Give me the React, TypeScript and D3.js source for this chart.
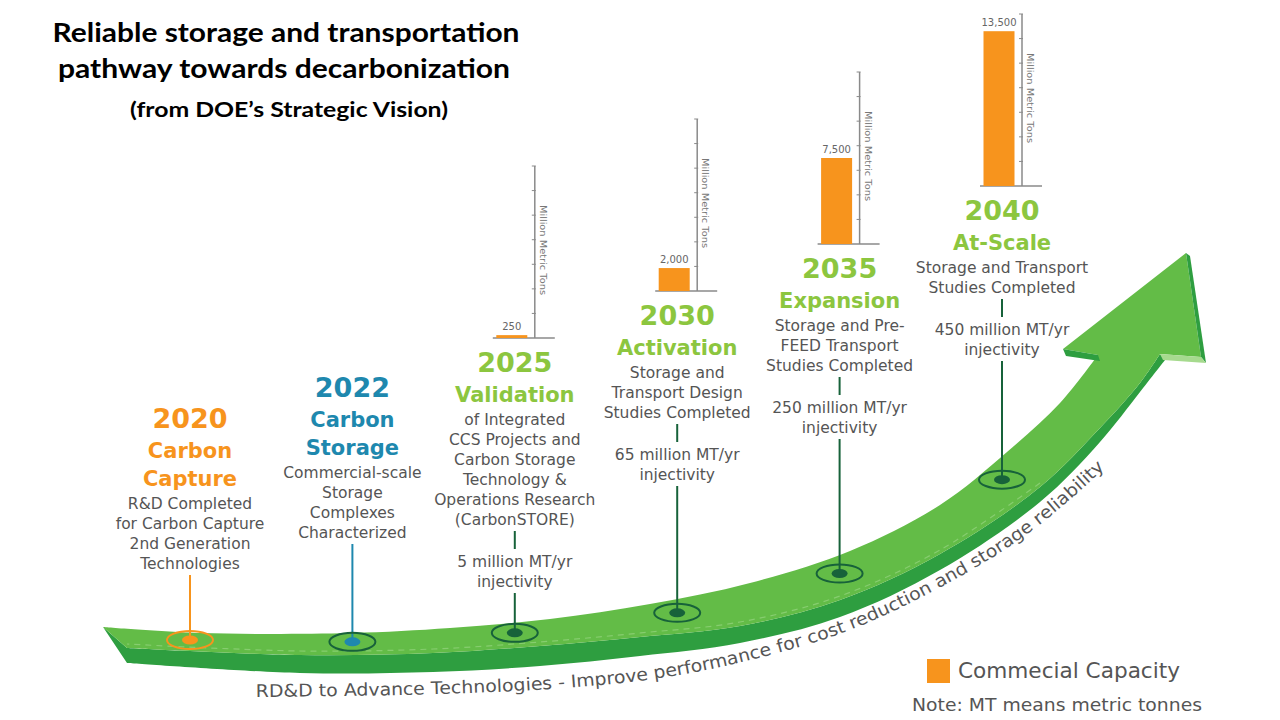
import React from "react";
import * as d3 from "d3";

// ---------- DATA ----------
const titleLines = ["Reliable storage and transportation", "pathway towards decarbonization"];
const subtitle = "(from DOE\u2019s Strategic Vision)";

const milestoneYears = ["2020", "2022", "2025", "2030", "2035", "2040"];
const milestoneTitles = [["Carbon", "Capture"], ["Carbon", "Storage"], ["Validation"], ["Activation"], ["Expansion"], ["At-Scale"]];
const milestoneDescriptions = [
  ["R&D Completed", "for Carbon Capture", "2nd Generation", "Technologies"],
  ["Commercial-scale", "Storage", "Complexes", "Characterized"],
  ["of Integrated", "CCS Projects and", "Carbon Storage", "Technology &", "Operations Research", "(CarbonSTORE)"],
  ["Storage and", "Transport Design", "Studies Completed"],
  ["Storage and Pre-", "FEED Transport", "Studies Completed"],
  ["Storage and Transport", "Studies Completed"],
];
const injectivityLabels = [null, null, "5 million MT/yr", "65 million MT/yr", "250 million MT/yr", "450 million MT/yr"];

const capacityYears = ["2025", "2030", "2035", "2040"];
const capacityValues = [250, 2000, 7500, 13500];
const capacityLabels = ["250", "2,000", "7,500", "13,500"];
const capacityAxisTitle = "Million Metric Tons";

const trackLabel = "RD&D to Advance Technologies - Improve performance for cost reduction and storage reliability";
const legendLabel = "Commecial Capacity";
const noteLabel = "Note: MT means metric tonnes";

// ---------- LAYOUT / STYLE ----------
const W = 1280, H = 720;
const ORANGE = "#F7941D";
const BLUE = "#1E88AE";
const LIME = "#8CC63F";
const GRAY = "#555555";
const DKGREEN = "#17623A";
const milestoneColors = [ORANGE, BLUE, LIME, LIME, LIME, LIME];
const lineColors = [ORANGE, BLUE, DKGREEN, DKGREEN, DKGREEN, DKGREEN];
const ringColors = [ORANGE, DKGREEN, DKGREEN, DKGREEN, DKGREEN, DKGREEN];
const yearCenterY = [418, 387, 362, 315, 268, 210];
const descFont = "'DejaVu Sans', Verdana, sans-serif";
const trackFontSize = 17.5;
const trackTextLength = 905;

// arrow geometry (decorative track)
type P = [number, number];
const upperEdge: P[] = [[103, 627], [200, 633], [350, 633], [450, 628], [550, 619], [650, 604], [750, 583], [850, 551], [940, 505], [1007, 452], [1060, 403], [1098, 355]];
const surfaceLower: P[] = [[1160, 354], [1140, 383], [1100, 428], [1040, 487], [940, 554], [840, 600], [740, 626], [640, 637], [540, 646], [433, 653], [300, 655], [127, 648]];
const sideBottom: P[] = [[127, 663], [300, 673], [433, 672], [540, 666], [640, 656], [740, 643], [840, 617], [940, 570], [1040, 502], [1100, 442], [1140, 392], [1165, 360]];
const headPts: P[] = [[1063, 349], [1186, 253], [1201, 357]];
const textTrack: P[] = [[256, 697], [400, 695], [550, 689], [660, 678], [750, 660], [850, 630], [950, 582], [1030, 532], [1110, 463], [1140, 430]];

const curve = d3.line<P>().x(d => d[0]).y(d => d[1]).curve(d3.curveCatmullRom.alpha(0.5));
const asL = (s: string) => "L" + s.slice(1);

function interpY(pts: P[], x: number) {
  const s = [...pts].sort((a, b) => a[0] - b[0]);
  for (let i = 0; i < s.length - 1; i++) {
    if (x >= s[i][0] && x <= s[i + 1][0]) {
      const t = (x - s[i][0]) / (s[i + 1][0] - s[i][0]);
      return s[i][1] + t * (s[i + 1][1] - s[i][1]);
    }
  }
  return s[s.length - 1][1];
}

function measure(text: string) {
  const c = document.createElement("canvas").getContext("2d");
  if (!c) return text.length * trackFontSize * 0.55;
  c.font = `${trackFontSize}px 'DejaVu Sans', Verdana, sans-serif`;
  return c.measureText(text).width;
}

export default function App() {
  const x = d3.scalePoint<string>().domain(milestoneYears).range([190, 1002]);
  const hScale = d3.scaleLinear().domain([0, 15000]).range([0, 172]);
  const tickVals = d3.range(8).map(i => (i * 15000) / 7);

  const topFace = curve(upperEdge)! + headPts.map(p => `L${p[0]},${p[1]}`).join("") + asL(curve(surfaceLower)!) + "Z";
  const sideFace = curve(sideBottom)! + asL(curve(surfaceLower)!) + "L103,627Z";
  const dashPath = curve(surfaceLower.slice(3).map(p => [p[0], p[1] - 4] as P))!;

  const dotY = (xx: number) => {
    const u = interpY(upperEdge, xx);
    const l = interpY(surfaceLower, xx);
    return u + (l - u) * 0.42;
  };

  // split track label into words placed along the path
  const words = trackLabel.split(" ");
  const fullW = measure(trackLabel);
  const k = trackTextLength / fullW;
  const wordItems: { w: string; off: number; len: number }[] = [];
  let prefix = "";
  words.forEach((w, i) => {
    const off = measure(prefix) * k;
    wordItems.push({ w, off, len: measure(w) * k });
    prefix += w + (i < words.length - 1 ? " " : "");
    if (i < words.length - 1) prefix = prefix; // keep
  });

  return (
    <svg width={W} height={H} style={{ position: "absolute", left: 0, top: 0, background: "#fff" }} fontFamily={descFont}>
      <rect width={W} height={H} fill="#fff" />
      {/* Title */}
      <g fontFamily="Lato, 'Open Sans', sans-serif" fontWeight={700} fill="#000" textAnchor="middle">
        <text x={286} y={42} fontSize={27} textLength={467} lengthAdjust="spacingAndGlyphs">{titleLines[0]}</text>
        <text x={284} y={78} fontSize={27} textLength={452} lengthAdjust="spacingAndGlyphs">{titleLines[1]}</text>
        <text x={289} y={117} fontSize={21} textLength={318} lengthAdjust="spacingAndGlyphs">{subtitle}</text>
      </g>

      {/* Arrow track */}
      <path d={sideFace} fill="#2E9E40" />
      <path d={topFace} fill="#63BC47" />
      <path d={dashPath} fill="none" stroke="#9ED88A" strokeWidth={1.2} strokeDasharray="6 5" opacity={0.6} />
      {/* arrowhead thickness */}
      <path d="M1063,349 L1098,355 L1100,361 L1066,356 Z" fill="#2E9E40" />
      <path d="M1186,253 L1201,357 L1206,363 L1190,256 Z" fill="#2E9E40" />
      <path d="M1160,354 L1201,357 L1206,363 L1163,360 Z" fill="#A6DA8E" />

      {/* Track label */}
      <path id="trackTextPath" d={curve(textTrack)!} fill="none" />
      {wordItems.map((it, i) => (
        <text key={i} fontSize={trackFontSize} fill={GRAY}>
          <textPath href="#trackTextPath" startOffset={it.off} textLength={it.len} lengthAdjust="spacingAndGlyphs">{it.w}</textPath>
        </text>
      ))}

      {/* Milestones */}
      {milestoneYears.map((yr, i) => {
        const cx = x(yr)!;
        const yc = yearCenterY[i];
        const cy = dotY(cx);
        const els: React.ReactNode[] = [];
        els.push(<text key="y" x={cx} y={yc + 9.5} fontSize={27} fontWeight={700} fill={milestoneColors[i]} textAnchor="middle">{yr}</text>);
        let cur = yc;
        milestoneTitles[i].forEach((t, j) => {
          cur += j === 0 ? 32 : 28;
          els.push(<text key={"t" + j} x={cx} y={cur + 7.5} fontSize={21} fontWeight={700} fill={milestoneColors[i]} textAnchor="middle">{t}</text>);
        });
        milestoneDescriptions[i].forEach((d, j) => {
          cur += j === 0 ? 25 : 20;
          els.push(<text key={"d" + j} x={cx} y={cur + 5.5} fontSize={15.5} fill={GRAY} textAnchor="middle">{d}</text>);
        });
        const inj = injectivityLabels[i];
        if (inj) {
          els.push(<line key="c" x1={cx} x2={cx} y1={cur + 12} y2={cur + 30} stroke={DKGREEN} strokeWidth={2} />);
          cur += 42;
          els.push(<text key="i1" x={cx} y={cur + 5.5} fontSize={15.5} fill={GRAY} textAnchor="middle">{inj}</text>);
          cur += 20;
          els.push(<text key="i2" x={cx} y={cur + 5.5} fontSize={15.5} fill={GRAY} textAnchor="middle">injectivity</text>);
        }
        els.push(<line key="l" x1={cx} x2={cx} y1={cur + 12} y2={cy - 3} stroke={lineColors[i]} strokeWidth={2} />);
        els.push(<ellipse key="o" cx={cx} cy={cy} rx={23} ry={9} fill="none" stroke={ringColors[i]} strokeWidth={2} />);
        els.push(<ellipse key="in" cx={cx} cy={cy} rx={8} ry={4.5} fill={lineColors[i]} />);
        return <g key={yr}>{els}</g>;
      })}

      {/* Capacity mini bar charts */}
      {capacityYears.map((yr, i) => {
        const idx = milestoneYears.indexOf(yr);
        const cx = x(yr)! - 3;
        const base = yearCenterY[idx] - 24;
        const axisX = x(yr)! + 20;
        const yS = d3.scaleLinear().domain([0, 15000]).range([base, base - hScale(15000)]);
        const v = capacityValues[i];
        const barTop = yS(v);
        return (
          <g key={yr}>
            <line x1={cx - 19} x2={axisX + 20} y1={base} y2={base} stroke="#8a8a8a" strokeWidth={1.5} />
            <line x1={axisX} x2={axisX} y1={base} y2={yS(15000)} stroke="#8a8a8a" strokeWidth={1.5} />
            {tickVals.slice(1).map((t, k2) => (
              <line key={k2} x1={axisX - 3} x2={axisX + 1} y1={yS(t)} y2={yS(t)} stroke="#8a8a8a" strokeWidth={1} />
            ))}
            <rect x={cx - 15.5} y={barTop} width={31} height={base - barTop} fill={ORANGE} />
            <text x={cx} y={barTop - 5} fontSize={10} fill="#666" textAnchor="middle">{capacityLabels[i]}</text>
            <text transform={`translate(${axisX + 5},${yS(15000) + 39}) rotate(90)`} fontSize={9.5} fill="#777" textLength={90} lengthAdjust="spacingAndGlyphs">{capacityAxisTitle}</text>
          </g>
        );
      })}

      {/* Legend */}
      <rect x={927} y={659} width={23} height={24} fill={ORANGE} />
      <text x={958} y={678} fontSize={20.5} fill={GRAY} textLength={222} lengthAdjust="spacingAndGlyphs">{legendLabel}</text>
      <text x={912} y={711} fontSize={17.5} fill={GRAY} textLength={290} lengthAdjust="spacingAndGlyphs">{noteLabel}</text>
    </svg>
  );
}
